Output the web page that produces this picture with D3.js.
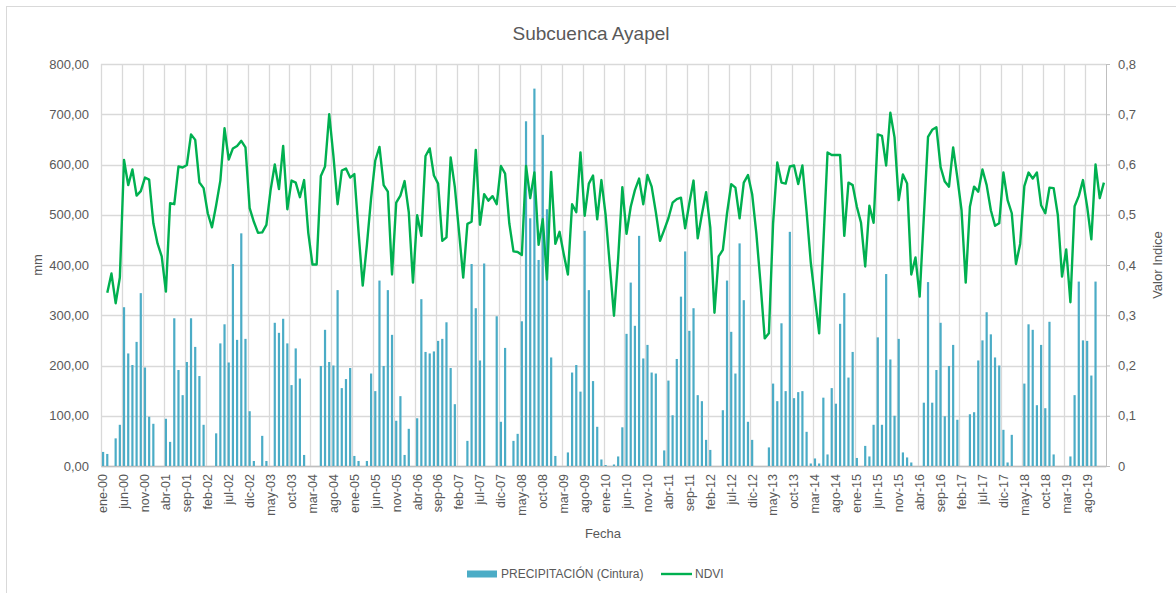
<!DOCTYPE html>
<html>
<head>
<meta charset="utf-8">
<script src="https://cdn.jsdelivr.net/npm/d3@7"></script>
<style>
  body { margin: 0; background: #fff; }
  svg text { font-family: "Liberation Sans", Arial, sans-serif; fill: #595959; }
</style>
</head>
<body>
<div id="chart"></div>
<script>
const width = 1176;
const height = 593;
const margin = {top: 64, right: 70, bottom: 127, left: 101};

const monthNames = ["ene","feb","mar","abr","may","jun","jul","ago","sep","oct","nov","dic"];
const years = ["00","01","02","03","04","05","06","07","08","09","10","11","12","13","14","15","16","17","18","19"];
const leftTicks = [0, 100, 200, 300, 400, 500, 600, 700, 800];
const rightTicks = [0, 0.1, 0.2, 0.3, 0.4, 0.5, 0.6, 0.7, 0.8];

// monthly precipitation (mm), ene-00 .. dic-19
const precipitacion = [
  28, 24, 0, 55, 82, 316, 224, 201, 247, 344,
  196, 98, 84, 0, 0, 94, 48, 294, 191, 141,
  207, 294, 237, 179, 82, 0, 0, 65, 244, 282,
  206, 402, 251, 463, 253, 109, 10, 0, 60, 10,
  0, 285, 265, 293, 244, 161, 234, 174, 22, 0,
  0, 0, 199, 271, 207, 200, 350, 155, 173, 195,
  20, 10, 0, 10, 184, 149, 369, 199, 350, 261,
  90, 139, 22, 74, 0, 95, 332, 227, 224, 228,
  249, 253, 286, 195, 123, 0, 0, 50, 402, 314,
  210, 403, 0, 0, 298, 88, 235, 0, 50, 64,
  288, 686, 493, 751, 410, 659, 511, 216, 20, 0,
  0, 27, 186, 201, 148, 468, 350, 169, 78, 13,
  2, 0, 3, 19, 77, 263, 365, 279, 458, 214,
  241, 186, 184, 0, 31, 170, 101, 213, 337, 427,
  269, 314, 141, 129, 52, 32, 0, 0, 111, 369,
  267, 184, 443, 330, 88, 52, 0, 0, 0, 37,
  164, 129, 284, 149, 466, 135, 147, 149, 68, 5,
  15, 5, 136, 23, 155, 124, 283, 344, 176, 227,
  16, 0, 40, 19, 82, 256, 82, 382, 212, 100,
  253, 27, 17, 7, 0, 0, 126, 366, 126, 191,
  285, 99, 199, 241, 92, 0, 0, 103, 107, 210,
  250, 306, 262, 216, 200, 72, 7, 62, 0, 0,
  164, 282, 271, 121, 241, 115, 287, 23, 0, 0,
  0, 19, 141, 367, 250, 249, 180, 367, 0, 0
];

// NDVI, ene-00 .. dic-19 (first month missing)
const ndvi = [
  null, 0.345, 0.383, 0.324, 0.375, 0.609, 0.559, 0.590, 0.538, 0.547,
  0.574, 0.570, 0.483, 0.443, 0.417, 0.347, 0.523, 0.521, 0.596, 0.594,
  0.599, 0.660, 0.649, 0.564, 0.553, 0.503, 0.475, 0.519, 0.568, 0.672,
  0.610, 0.632, 0.637, 0.647, 0.634, 0.513, 0.486, 0.464, 0.465, 0.480,
  0.549, 0.600, 0.551, 0.637, 0.511, 0.568, 0.564, 0.535, 0.569, 0.464,
  0.401, 0.401, 0.577, 0.596, 0.700, 0.617, 0.521, 0.588, 0.592, 0.574,
  0.581, 0.466, 0.359, 0.440, 0.533, 0.608, 0.635, 0.559, 0.546, 0.381,
  0.524, 0.538, 0.567, 0.505, 0.365, 0.499, 0.458, 0.617, 0.632, 0.578,
  0.562, 0.448, 0.455, 0.614, 0.555, 0.466, 0.375, 0.482, 0.486, 0.629,
  0.480, 0.541, 0.528, 0.537, 0.521, 0.597, 0.582, 0.483, 0.427, 0.426,
  0.420, 0.597, 0.533, 0.584, 0.440, 0.491, 0.371, 0.585, 0.442, 0.466,
  0.422, 0.381, 0.521, 0.505, 0.624, 0.498, 0.562, 0.578, 0.491, 0.569,
  0.500, 0.400, 0.299, 0.413, 0.555, 0.462, 0.516, 0.549, 0.572, 0.521,
  0.579, 0.556, 0.505, 0.448, 0.470, 0.493, 0.524, 0.531, 0.534, 0.473,
  0.523, 0.568, 0.453, 0.501, 0.545, 0.475, 0.305, 0.417, 0.430, 0.503,
  0.561, 0.554, 0.493, 0.564, 0.579, 0.541, 0.463, 0.363, 0.254, 0.264,
  0.483, 0.604, 0.564, 0.562, 0.596, 0.598, 0.561, 0.598, 0.506, 0.405,
  0.334, 0.264, 0.442, 0.624, 0.619, 0.619, 0.619, 0.458, 0.564, 0.559,
  0.516, 0.484, 0.397, 0.518, 0.484, 0.660, 0.657, 0.598, 0.703, 0.654,
  0.529, 0.580, 0.562, 0.381, 0.415, 0.337, 0.496, 0.655, 0.669, 0.674,
  0.595, 0.566, 0.556, 0.634, 0.574, 0.509, 0.365, 0.516, 0.556, 0.546,
  0.590, 0.559, 0.509, 0.478, 0.483, 0.584, 0.529, 0.503, 0.402, 0.442,
  0.557, 0.584, 0.572, 0.584, 0.519, 0.503, 0.554, 0.553, 0.499, 0.377,
  0.431, 0.326, 0.517, 0.537, 0.569, 0.516, 0.451, 0.600, 0.533, 0.564
];

const fechas = years.flatMap(y => monthNames.map(m => `${m}-${y}`));
const tickLabels = fechas.filter((d, i) => i % 5 === 0);

const barCol = "#4bacc6";
const lineCol = "#00b050";
const gridCol = "#d9d9d9";

const svg = d3.select("#chart").append("svg")
  .attr("width", width)
  .attr("height", height);

// chart area border
svg.append("rect")
  .attr("x", 6.5).attr("y", 6.5)
  .attr("width", width).attr("height", height)
  .attr("fill", "none").attr("stroke", gridCol);

/// Scales ///
const xScale = d3.scaleBand()
  .domain(fechas)
  .range([margin.left, width - margin.right])
  .padding(0);

const yLeft = d3.scaleLinear()
  .domain([0, 800])
  .range([height - margin.bottom, margin.top]);

const yRight = d3.scaleLinear()
  .domain([0, 0.8])
  .range([height - margin.bottom, margin.top]);

const bottomY = height - margin.bottom;

// gridlines
svg.append("g")
  .selectAll("line")
  .data(leftTicks)
  .join("line")
  .attr("x1", margin.left).attr("x2", width - margin.right)
  .attr("y1", d => Math.round(yLeft(d)) + 0.5).attr("y2", d => Math.round(yLeft(d)) + 0.5)
  .attr("stroke", gridCol).attr("stroke-width", 1.3);

svg.append("g")
  .selectAll("line")
  .data(tickLabels)
  .join("line")
  .attr("x1", d => Math.round(xScale(d)) + 0.5).attr("x2", d => Math.round(xScale(d)) + 0.5)
  .attr("y1", margin.top).attr("y2", bottomY)
  .attr("stroke", gridCol).attr("stroke-width", 1.3);

/// Axes ///
const leftAxis = svg.append("g")
  .attr("transform", `translate(${margin.left},0)`)
  .call(d3.axisLeft(yLeft).tickValues(leftTicks).tickSize(0).tickPadding(12)
    .tickFormat(d => d3.format(".2f")(d).replace(".", ",")));
leftAxis.select(".domain").remove();
leftAxis.selectAll("text").style("font-size", "13px").attr("fill", "#595959");

const rightAxis = svg.append("g")
  .attr("transform", `translate(${width - margin.right},0)`)
  .call(d3.axisRight(yRight).tickValues(rightTicks).tickSize(4).tickPadding(8)
    .tickFormat(d => d === 0 ? "0" : d3.format(".1f")(d).replace(".", ",")));
rightAxis.select(".domain").attr("stroke", "#bfbfbf");
rightAxis.selectAll(".tick line").attr("stroke", "#bfbfbf");
rightAxis.selectAll("text").style("font-size", "13px").attr("fill", "#595959");

const xAxis = svg.append("g")
  .attr("transform", `translate(0,${bottomY})`)
  .call(d3.axisBottom(xScale).tickValues(tickLabels).tickSize(0).tickPadding(0));
xAxis.select(".domain").attr("stroke", "#bfbfbf").attr("stroke-width", 1.3);
xAxis.selectAll("text")
  .style("font-size", "12.5px")
  .attr("fill", "#595959")
  .attr("text-anchor", "end")
  .attr("transform", "rotate(-90)")
  .attr("x", -8)
  .attr("y", 0)
  .attr("dy", "0.35em");

/// Bars ///
const barW = 2.2;
svg.append("g")
  .selectAll("rect")
  .data(precipitacion.map((v, i) => ({fecha: fechas[i], v})))
  .join("rect")
  .attr("x", d => xScale(d.fecha) + xScale.bandwidth() / 2 - barW / 2)
  .attr("y", d => yLeft(d.v))
  .attr("width", barW)
  .attr("height", d => bottomY - yLeft(d.v))
  .attr("fill", barCol);

/// NDVI line ///
const line = d3.line()
  .defined(d => d.v != null)
  .x(d => xScale(d.fecha) + xScale.bandwidth() / 2)
  .y(d => yRight(d.v));

svg.append("path")
  .datum(ndvi.map((v, i) => ({fecha: fechas[i], v})))
  .attr("d", line)
  .attr("fill", "none")
  .attr("stroke", lineCol)
  .attr("stroke-width", 2.4)
  .attr("stroke-linejoin", "round");

/// Titles ///
svg.append("text")
  .attr("x", 591).attr("y", 40)
  .attr("text-anchor", "middle")
  .style("font-size", "19px")
  .text("Subcuenca Ayapel");

svg.append("text")
  .attr("x", 603).attr("y", 538)
  .attr("text-anchor", "middle")
  .style("font-size", "13px")
  .text("Fecha");

svg.append("text")
  .attr("transform", "translate(42,265) rotate(-90)")
  .attr("text-anchor", "middle")
  .style("font-size", "13px")
  .text("mm");

svg.append("text")
  .attr("transform", "translate(1162,265) rotate(-90)")
  .attr("text-anchor", "middle")
  .style("font-size", "13px")
  .text("Valor Indice");

/// Legend ///
const legend = svg.append("g").attr("transform", "translate(467,574)");
legend.append("rect")
  .attr("x", 0).attr("y", -3.5)
  .attr("width", 30).attr("height", 7)
  .attr("fill", barCol);
legend.append("text")
  .attr("x", 34).attr("y", 0).attr("dy", "0.35em")
  .style("font-size", "12px")
  .text("PRECIPITACIÓN (Cintura)");
legend.append("line")
  .attr("x1", 194).attr("x2", 225)
  .attr("y1", 0).attr("y2", 0)
  .attr("stroke", lineCol).attr("stroke-width", 2.4);
legend.append("text")
  .attr("x", 228).attr("y", 0).attr("dy", "0.35em")
  .style("font-size", "12px")
  .text("NDVI");
</script>
</body>
</html>
